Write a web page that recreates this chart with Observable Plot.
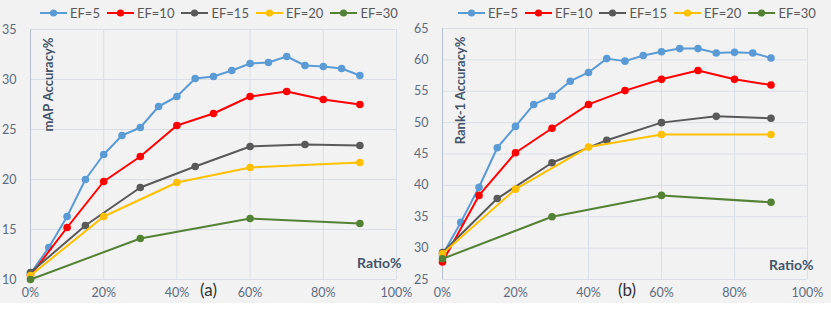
<!DOCTYPE html>
<html><head><meta charset="utf-8">
<script src="https://cdn.jsdelivr.net/npm/d3@7"></script>
<script src="https://cdn.jsdelivr.net/npm/@observablehq/plot@0.6"></script>
<style>
body{margin:0;background:#fff;}
#wrap{position:relative;width:831px;height:314px;background:#fff;overflow:hidden;}
#bg{position:absolute;left:0;top:0;width:831px;height:303px;background:#f2f2f2;}
.panel{position:absolute;top:0;height:314px;}
.legend{position:absolute;top:2px;height:22px;display:flex;align-items:center;font:13px Lato,sans-serif;color:#595959;white-space:nowrap;}
.item{display:flex;align-items:center;margin-right:7px;}
.item svg{margin-right:3px;}
.chart{position:absolute;top:24px;left:0;}
</style></head><body>
<div id="wrap"><div id="bg"></div>
<div class="panel" id="pa" style="left:0;width:415px"></div>
<div class="panel" id="pb" style="left:415px;width:416px"></div>
</div>
<script>
const seriesNames = ["EF=5", "EF=10", "EF=15", "EF=20", "EF=30"];
const seriesColors = ["#5b9bd5", "#ff0000", "#595959", "#ffc000", "#548235"];

const ratioEF5 = [0, 5, 10, 15, 20, 25, 30, 35, 40, 45, 50, 55, 60, 65, 70, 75, 80, 85, 90];
const ratioEF10 = [0, 10, 20, 30, 40, 50, 60, 70, 80, 90];
const ratioEF15 = [0, 15, 30, 45, 60, 75, 90];
const ratioEF20 = [0, 20, 40, 60, 90];
const ratioEF30 = [0, 30, 60, 90];

const mapEF5 = [10.6, 13.2, 16.3, 20.0, 22.5, 24.4, 25.2, 27.3, 28.3, 30.1, 30.3, 30.9, 31.6, 31.7, 32.3, 31.4, 31.3, 31.1, 30.4];
const mapEF10 = [10.4, 15.2, 19.8, 22.3, 25.4, 26.6, 28.3, 28.8, 28.0, 27.5];
const mapEF15 = [10.7, 15.4, 19.2, 21.3, 23.3, 23.5, 23.4];
const mapEF20 = [10.4, 16.3, 19.7, 21.2, 21.7];
const mapEF30 = [10.0, 14.1, 16.1, 15.6];

const rank1EF5 = [28.9, 34.1, 39.7, 46.0, 49.4, 52.9, 54.2, 56.6, 58.0, 60.2, 59.8, 60.7, 61.3, 61.8, 61.8, 61.1, 61.2, 61.1, 60.3];
const rank1EF10 = [27.8, 38.4, 45.2, 49.1, 52.9, 55.1, 56.9, 58.3, 56.9, 56.0];
const rank1EF15 = [29.3, 37.9, 43.6, 47.2, 50.0, 51.0, 50.7];
const rank1EF20 = [29.1, 39.4, 46.1, 48.1, 48.1];
const rank1EF30 = [28.3, 35.0, 38.4, 37.3];

const xTicks = [0, 20, 40, 60, 80, 100];
const mapTicks = [10, 15, 20, 25, 30, 35];
const rankTicks = [25, 30, 35, 40, 45, 50, 55, 60, 65];

const ratios = [ratioEF5, ratioEF10, ratioEF15, ratioEF20, ratioEF30];

function legend(host, left) {
  const lg = document.createElement("div");
  lg.className = "legend";
  lg.style.left = left + "px";
  seriesNames.forEach((n, i) => {
    const it = document.createElement("div");
    it.className = "item";
    it.innerHTML = `<svg width="27" height="10"><line x1="0" y1="5" x2="27" y2="5" stroke="${seriesColors[i]}" stroke-width="2"/><circle cx="13.5" cy="5" r="3.6" fill="${seriesColors[i]}"/></svg><span>${n}</span>`;
    lg.appendChild(it);
  });
  host.appendChild(lg);
}

function makeChart({values, yDomain, yTicks, yLabel, tag, width, ml, mr, mt, tagDx, ratioDx, ratioDy}) {
  const marks = [
    Plot.gridX(xTicks, {stroke: "#d9dee6", strokeOpacity: 1}),
    Plot.gridY(yTicks, {stroke: "#d9dee6", strokeOpacity: 1}),
    Plot.ruleX([0], {stroke: "#b7c1cf"}),
    Plot.axisX(xTicks, {tickSize: 0, tickPadding: 9, tickFormat: d => d + "%", label: null, fill: "#5c6b80"}),
    Plot.axisY(yTicks, {tickSize: 0, tickPadding: 14, label: null, fill: "#5c6b80"})
  ];
  seriesNames.forEach((n, i) => {
    const rows = ratios[i].map((r, j) => ({series: n, ratio: r, value: values[i][j]}));
    marks.push(Plot.line(rows, {x: "ratio", y: "value", stroke: seriesColors[i], strokeWidth: 2}));
    marks.push(Plot.dot(rows, {x: "ratio", y: "value", fill: seriesColors[i], r: 3.8}));
  });
  marks.push(Plot.text([yLabel], {frameAnchor: "top-left", rotate: -90, textAnchor: "end", dx: 13, dy: 8, fontWeight: "bold", fontSize: 13, fill: "#44546a"}));
  marks.push(Plot.text(["Ratio%"], {frameAnchor: "bottom-right", textAnchor: "end", dx: ratioDx, dy: ratioDy, fontWeight: "bold", fontSize: 14, fill: "#44546a"}));
  marks.push(Plot.text([tag], {frameAnchor: "bottom", dx: tagDx, dy: 16, fontSize: 17, fill: "#333333"}));
  return Plot.plot({
    width, height: 290, marginLeft: ml, marginRight: mr, marginTop: mt, marginBottom: 35,
    style: {background: "transparent", fontFamily: "Lato, sans-serif", fontSize: "12.5px", overflow: "visible"},
    x: {domain: [0, 100]},
    y: {domain: yDomain},
    marks
  });
}

const pa = document.getElementById("pa");
const pb = document.getElementById("pb");
legend(pa, 40);
legend(pb, 458);
pb.querySelector(".legend").style.left = "43px";

const ca = makeChart({values: [mapEF5, mapEF10, mapEF15, mapEF20, mapEF30], yDomain: [10, 35], yTicks: mapTicks,
  yLabel: "mAP Accuracy%", tag: "(a)", width: 415, ml: 30, mr: 19, mt: 5, tagDx: -5, ratioDx: 5, ratioDy: -12});
ca.classList.add("chart");
pa.appendChild(ca);

const cb = makeChart({values: [rank1EF5, rank1EF10, rank1EF15, rank1EF20, rank1EF30], yDomain: [25, 65], yTicks: rankTicks,
  yLabel: "Rank-1 Accuracy%", tag: "(b)", width: 416, ml: 27, mr: 24, mt: 4, tagDx: 2, ratioDx: 6, ratioDy: -10});
cb.classList.add("chart");
pb.appendChild(cb);
</script>
</body></html>
